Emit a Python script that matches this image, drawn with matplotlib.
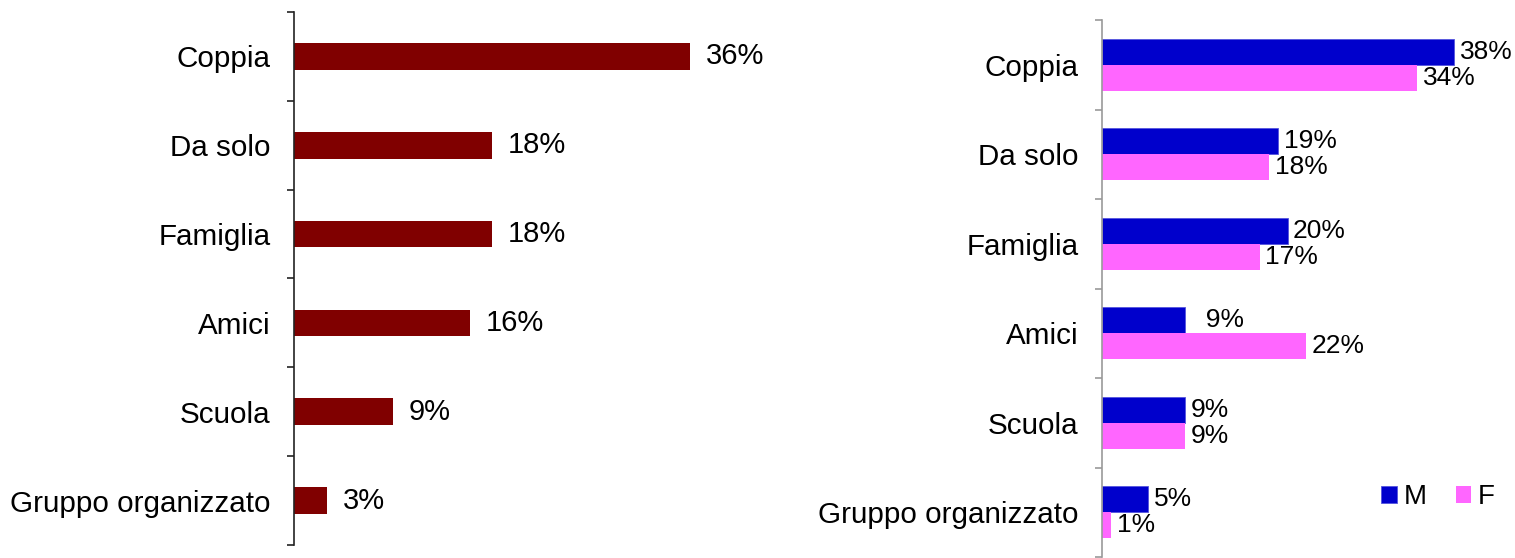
import matplotlib.pyplot as plt
import numpy as np

plt.rcParams['font.family'] = ['Liberation Sans', 'DejaVu Sans']

# data
categories = ['Coppia', 'Da solo', 'Famiglia', 'Amici', 'Scuola', 'Gruppo organizzato']
totale = [36, 18, 18, 16, 9, 3]
maschi = [38, 19, 20, 9, 9, 5]
femmine = [34, 18, 17, 22, 9, 1]
# label text as in the original (the Amici M label carries a leading space)
maschi_labels = ['38%', '19%', '20%', '  9%', '9%', '5%']

W, H = 1515, 558
fig = plt.figure(figsize=(W / 100, H / 100), dpi=100)

y = np.arange(len(categories))

def setup_axis(ax, spine_color):
    ax.set_ylim(len(categories) - 0.5, -0.5)
    ax.set_xlim(0, 40)
    for s in ['top', 'right', 'bottom']:
        ax.spines[s].set_visible(False)
    ax.spines['left'].set_color(spine_color)
    ax.spines['left'].set_linewidth(1.2)
    ax.set_xticks([])
    ax.set_yticks(y)
    ax.set_yticklabels(categories, fontsize=21.3)
    ax.tick_params(axis='y', which='major', length=0, pad=17)
    ax.set_yticks(np.arange(len(categories) + 1) - 0.5, minor=True)
    ax.tick_params(axis='y', which='minor', length=5, width=1.2, color=spine_color)

# left chart
ax1 = fig.add_axes([294 / W, 1 - 545 / H, 440 / W, 533 / H])
setup_axis(ax1, '#222222')
ax1.barh(y, totale, height=0.3, color='#800000')
for yi, v in zip(y, totale):
    ax1.text(v + 1.4, yi, f'{v}%', va='center', ha='left', fontsize=21, clip_on=False)

# right chart
ax2 = fig.add_axes([1102 / W, 1 - 557 / H, 371 / W, 537 / H])
setup_axis(ax2, '#999999')
h = 0.29
ax2.barh(y - h / 2, maschi, height=h, color='#0000CC', edgecolor='#5555dd', linewidth=0.6, label='M')
ax2.barh(y + h / 2, femmine, height=h, color='#FF66FF', label='F')
for yi, m, ml, f in zip(y, maschi, maschi_labels, femmine):
    ax2.text(m + 0.6, yi - h / 2, ml, va='center', ha='left', fontsize=19, clip_on=False)
    ax2.text(f + 0.6, yi + h / 2, f'{f}%', va='center', ha='left', fontsize=19, clip_on=False)

ax2.legend(loc='center', bbox_to_anchor=(1438 / W, 1 - 497 / H), bbox_transform=fig.transFigure,
           ncol=2, frameon=False, fontsize=20, handlelength=0.55, handleheight=0.55,
           handletextpad=0.25, columnspacing=1.05, borderpad=0, borderaxespad=0)

plt.savefig('out.png', dpi=100)
